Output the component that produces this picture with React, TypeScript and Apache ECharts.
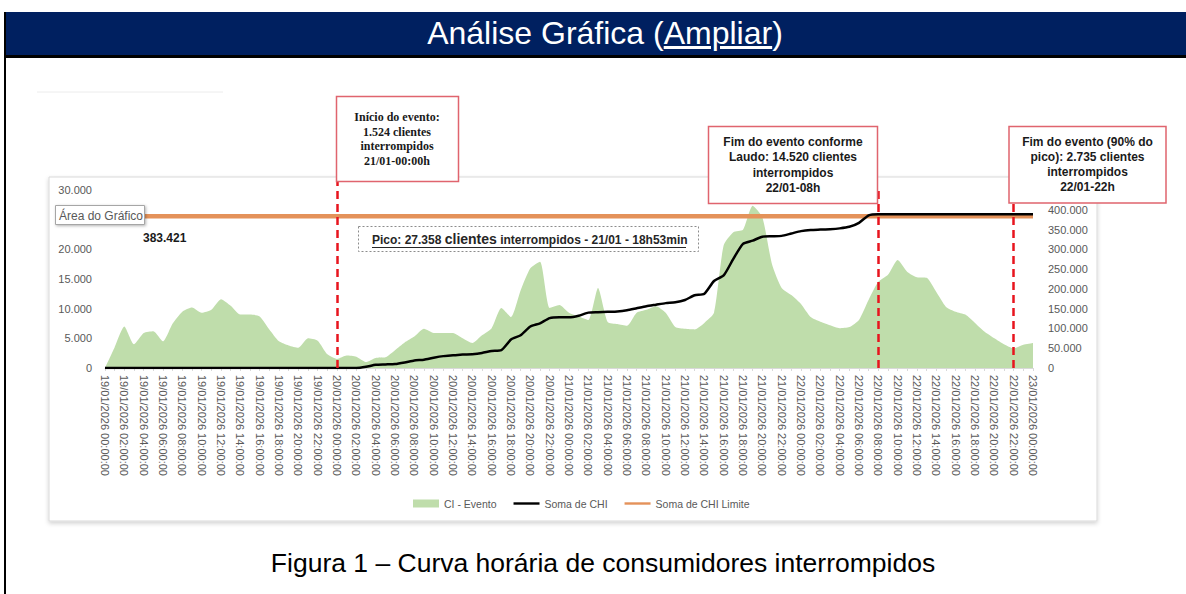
import React, { useEffect, useRef } from 'react';
import * as echarts from 'echarts';

// ---- Data ----
const DAYS = ['19/01/2026', '20/01/2026', '21/01/2026', '22/01/2026'];
const LAST_DAY = '23/01/2026';
const HOURS = ['00', '01', '02', '03', '04', '05', '06', '07', '08', '09', '10', '11',
  '12', '13', '14', '15', '16', '17', '18', '19', '20', '21', '22', '23'];
const CATEGORIES: string[] = [
  ...DAYS.flatMap((d) => HOURS.map((h) => `${d} ${h}:00:00`)),
  `${LAST_DAY} 00:00:00`,
];

// CI - Evento (clientes interrompidos por hora) - eixo esquerdo
const CI_EVENTO = [
  // 19/01
  0, 3500, 7000, 4000, 5900, 6200, 4500, 7500, 9500, 10200, 9300, 9800,
  11600, 10500, 9000, 9000, 8700, 6500, 4500, 3800, 3400, 5000, 4600, 2300,
  // 20/01
  1524, 2100, 1900, 1000, 1700, 1800, 3000, 4300, 5300, 6600, 5900, 5900,
  5900, 5000, 4200, 5500, 6700, 10100, 8600, 13100, 16800, 17900, 10100, 10600,
  // 21/01
  9300, 8700, 8100, 13500, 7750, 7400, 7100, 9300, 9800, 10400, 9300, 6900,
  6600, 6500, 7600, 9300, 20700, 22900, 23300, 27358, 25400, 17500, 13500, 12300,
  // 22/01
  10800, 8600, 7800, 7200, 6700, 6900, 8100, 11500, 14520, 15700, 18200, 16200,
  15300, 15200, 12800, 10300, 9500, 9000, 7600, 6100, 5000, 4000, 3300, 3900,
  // 23/01 00h
  4200,
];

// Soma de CHI (acumulado) - eixo direito
const SOMA_CHI = [
  // 19/01
  0, 0, 0, 0, 0, 0, 0, 0, 0, 0, 0, 0,
  0, 0, 0, 0, 0, 0, 0, 0, 0, 0, 0, 0,
  // 20/01
  0, 0, 0, 3000, 8000, 9000, 10000, 14000, 19000, 21000, 26000, 30000,
  32000, 34000, 35000, 38000, 43000, 45000, 72000, 83000, 105000, 113000, 126000, 128000,
  // 21/01
  128000, 132000, 140000, 141000, 142000, 143000, 146000, 151000, 156000, 160000, 164000, 166000,
  172000, 184000, 188000, 220000, 234000, 276000, 314000, 322000, 332000, 333000, 334000, 340000,
  // 22/01
  346000, 349000, 350000, 351000, 353000, 357000, 367000, 386000, 389000, 389000, 389000, 389000,
  389000, 389000, 389000, 389000, 389000, 389000, 389000, 389000, 389000, 389000, 389000, 389000,
  // 23/01 00h
  389000,
];

const CHI_LIMITE = 383421;
const SOMA_CHI_LIMITE = CATEGORIES.map(() => CHI_LIMITE);

const LEFT_MAX = 30000;
const LEFT_STEP = 5000;
const LEFT_HIDDEN_LABEL = 25000; // covered by the "Área do Gráfico" tooltip in the original
const RIGHT_MAX = 450000;
const RIGHT_STEP = 50000;

const EVENT_START = '20/01/2026 00:00:00';
const EVENT_ENDS = ['22/01/2026 08:00:00', '22/01/2026 22:00:00'];

const SERIES_NAMES = ['CI - Evento', 'Soma de CHI', 'Soma de CHI Limite'];
const GREEN = '#bfddab';
const ORANGE = '#e4925a';
const RED = '#e8141e';
const FONT = 'Liberation Sans, Arial, sans-serif';

const fmt = (v: number) => (v === 0 ? '0' : String(v).replace(/\B(?=(\d{3})+(?!\d))/g, '.'));

function Chart() {
  const ref = useRef<HTMLDivElement>(null);
  useEffect(() => {
    if (!ref.current) return;
    const chart = echarts.init(ref.current, undefined, { renderer: 'svg' });
    const boxStroke = '#e0646e';
    const redLine = { color: RED, width: 2.5, type: [8, 5] };
    const option: any = {
      animation: false,
      textStyle: { fontFamily: FONT },
      grid: [
        { left: 105, right: 153, top: 190, bottom: 226, containLabel: false },
        // taller helper grid: the start-of-event line rises above the plot area
        { left: 105, right: 153, top: 165, bottom: 226, containLabel: false },
      ],
      legend: {
        left: 408,
        top: 493,
        itemWidth: 26,
        itemHeight: 8,
        itemGap: 17,
        textStyle: { fontSize: 10.5, color: '#595959', fontFamily: FONT },
        data: [
          { name: SERIES_NAMES[0], icon: 'rect', itemStyle: { color: GREEN } },
          { name: SERIES_NAMES[1], icon: 'path://M0 0H27V2.5H0Z', itemStyle: { color: '#000' } },
          { name: SERIES_NAMES[2], icon: 'path://M0 0H27V2.5H0Z', itemStyle: { color: ORANGE } },
        ],
      },
      xAxis: [
        {
          type: 'category',
          gridIndex: 0,
          boundaryGap: false,
          data: CATEGORIES,
          axisLine: { lineStyle: { color: '#d9d9d9' } },
          axisTick: { show: true, interval: 0, length: 3, lineStyle: { color: '#d9d9d9' } },
          axisLabel: {
            interval: 1,
            rotate: -90,
            fontSize: 11,
            color: '#595959',
            margin: 7,
            fontFamily: FONT,
          },
          splitLine: { show: false },
        },
        {
          type: 'category',
          gridIndex: 1,
          boundaryGap: false,
          data: CATEGORIES,
          show: false,
        },
      ],
      yAxis: [
        {
          type: 'value',
          gridIndex: 0,
          min: 0,
          max: LEFT_MAX,
          interval: LEFT_STEP,
          splitLine: { show: false },
          axisLine: { show: false },
          axisTick: { show: false },
          axisLabel: {
            fontSize: 11,
            color: '#595959',
            margin: 13,
            formatter: (v: number) => (v === LEFT_HIDDEN_LABEL ? '' : fmt(v)),
            fontFamily: FONT,
          },
        },
        {
          type: 'value',
          gridIndex: 0,
          min: 0,
          max: RIGHT_MAX,
          interval: RIGHT_STEP,
          position: 'right',
          splitLine: { show: false },
          axisLine: { show: false },
          axisTick: { show: false },
          axisLabel: {
            fontSize: 11,
            color: '#595959',
            margin: 15,
            formatter: fmt,
            showMaxLabel: false,
            fontFamily: FONT,
          },
        },
        {
          type: 'value',
          gridIndex: 1,
          min: 0,
          max: 1,
          show: false,
        },
      ],
      series: [
        {
          name: SERIES_NAMES[0],
          type: 'line',
          xAxisIndex: 0,
          yAxisIndex: 0,
          data: CI_EVENTO,
          smooth: 0.2,
          showSymbol: false,
          color: GREEN,
          lineStyle: { width: 0, color: GREEN },
          areaStyle: { color: GREEN, opacity: 1 },
          z: 2,
          markLine: {
            silent: true,
            symbol: 'none',
            label: { show: false },
            lineStyle: redLine,
            data: EVENT_ENDS.map((c) => ({ xAxis: c })),
          },
        },
        {
          name: 'Início do evento',
          type: 'line',
          xAxisIndex: 1,
          yAxisIndex: 2,
          data: [],
          showSymbol: false,
          z: 5,
          markLine: {
            silent: true,
            symbol: 'none',
            label: { show: false },
            lineStyle: redLine,
            data: [{ xAxis: EVENT_START }],
          },
        },
        {
          name: SERIES_NAMES[2],
          type: 'line',
          xAxisIndex: 0,
          yAxisIndex: 1,
          data: SOMA_CHI_LIMITE,
          showSymbol: false,
          color: ORANGE,
          lineStyle: { width: 4.5, color: ORANGE },
          z: 3,
        },
        {
          name: SERIES_NAMES[1],
          type: 'line',
          xAxisIndex: 0,
          yAxisIndex: 1,
          data: SOMA_CHI,
          smooth: 0.2,
          showSymbol: false,
          color: '#000',
          lineStyle: { width: 2.5, color: '#000' },
          z: 4,
        },
      ],
      graphic: [
        {
          type: 'rect',
          z: 0,
          shape: { x: 49, y: 177, width: 1048, height: 344 },
          style: {
            fill: '#fff',
            stroke: '#d9d9d9',
            lineWidth: 1,
            shadowBlur: 4,
            shadowColor: 'rgba(0,0,0,0.18)',
            shadowOffsetY: 2,
          },
        },
        {
          type: 'line',
          z: 1,
          shape: { x1: 37, y1: 92, x2: 223, y2: 92 },
          style: { stroke: '#ececec', lineWidth: 1 },
        },
        // Box 1
        {
          type: 'rect',
          z: 50,
          shape: { x: 336.5, y: 96.5, width: 122, height: 85 },
          style: { fill: '#fff', stroke: boxStroke, lineWidth: 1.5 },
        },
        {
          type: 'text',
          z: 51,
          x: 397,
          y: 139,
          style: {
            text: 'Início do evento:\n1.524 clientes\ninterrompidos\n21/01-00:00h',
            font: 'bold 12px "Liberation Serif", "Times New Roman", serif',
            fill: '#1a1a1a',
            align: 'center',
            verticalAlign: 'middle',
            textAlign: 'center',
            textVerticalAlign: 'middle',
            lineHeight: 14.7,
          },
        },
        // Box 2
        {
          type: 'rect',
          z: 50,
          shape: { x: 708.5, y: 126.5, width: 169, height: 77 },
          style: { fill: '#fff', stroke: boxStroke, lineWidth: 1.5 },
        },
        {
          type: 'text',
          z: 51,
          x: 793,
          y: 165,
          style: {
            text: 'Fim do evento conforme\nLaudo: 14.520 clientes\ninterrompidos\n22/01-08h',
            font: `bold 12px ${FONT}`,
            fill: '#1a1a1a',
            align: 'center',
            verticalAlign: 'middle',
            textAlign: 'center',
            textVerticalAlign: 'middle',
            lineHeight: 15.3,
          },
        },
        // Box 3
        {
          type: 'rect',
          z: 50,
          shape: { x: 1009, y: 126.5, width: 157, height: 76.5 },
          style: { fill: '#fff', stroke: boxStroke, lineWidth: 1.5 },
        },
        {
          type: 'text',
          z: 51,
          x: 1087.5,
          y: 164.5,
          style: {
            text: 'Fim do evento (90% do\npico): 2.735 clientes\ninterrompidos\n22/01-22h',
            font: `bold 12px ${FONT}`,
            fill: '#1a1a1a',
            align: 'center',
            verticalAlign: 'middle',
            textAlign: 'center',
            textVerticalAlign: 'middle',
            lineHeight: 15.3,
          },
        },
        // Peak box
        {
          type: 'rect',
          z: 50,
          shape: { x: 358.5, y: 226.5, width: 340, height: 25 },
          style: { fill: '#fff', stroke: '#8c8c8c', lineWidth: 1, lineDash: [2, 2] },
        },
        {
          type: 'text',
          z: 51,
          x: 372,
          y: 246,
          style: {
            text: '{a|Pico: 27.358 }{b|clientes}{a| interrompidos - 21/01 - 18h53min}',
            fill: '#262626',
            align: 'left',
            verticalAlign: 'bottom',
            textAlign: 'left',
            textVerticalAlign: 'bottom',
            rich: {
              a: { font: `bold 12px ${FONT}`, fill: '#262626', verticalAlign: 'bottom', lineHeight: 16 },
              b: { font: `bold 14px ${FONT}`, fill: '#262626', verticalAlign: 'bottom', lineHeight: 16 },
            },
          },
        },
        {
          type: 'line',
          z: 51,
          shape: { x1: 372, y1: 247.5, x2: 686, y2: 247.5 },
          style: { stroke: '#262626', lineWidth: 1 },
        },
        // 383.421 label
        {
          type: 'text',
          z: 51,
          x: 143,
          y: 237.5,
          style: {
            text: '383.421',
            font: `bold 12px ${FONT}`,
            fill: '#1a1a1a',
            align: 'left',
            verticalAlign: 'middle',
            textAlign: 'left',
            textVerticalAlign: 'middle',
          },
        },
        // "Área do Gráfico" tooltip
        {
          type: 'rect',
          z: 50,
          shape: { x: 55.5, y: 205.5, width: 89, height: 19 },
          style: {
            fill: '#fff',
            stroke: '#a6a6a6',
            lineWidth: 1,
            shadowBlur: 3,
            shadowColor: 'rgba(0,0,0,0.3)',
            shadowOffsetX: 1,
            shadowOffsetY: 1,
          },
        },
        {
          type: 'text',
          z: 51,
          x: 59,
          y: 215.5,
          style: {
            text: 'Área do Gráfico',
            font: `12px ${FONT}`,
            fill: '#595959',
            align: 'left',
            verticalAlign: 'middle',
            textAlign: 'left',
            textVerticalAlign: 'middle',
          },
        },
      ],
    };
    chart.setOption(option);
    return () => chart.dispose();
  }, []);
  return <div ref={ref} style={{ position: 'absolute', left: 0, top: 0, width: 1186, height: 594 }} />;
}

export default function App() {
  return (
    <div
      style={{
        position: 'absolute',
        left: 0,
        top: 0,
        width: 1186,
        height: 594,
        background: '#fff',
        overflow: 'hidden',
        fontFamily: FONT,
      }}
    >
      <Chart />
      <div
        style={{
          position: 'absolute',
          left: 4,
          top: 12,
          width: 1182,
          height: 43,
          background: '#002060',
          color: '#fff',
          fontSize: 32,
          lineHeight: '43px',
          textAlign: 'center',
          paddingLeft: 20,
          boxSizing: 'border-box',
        }}
      >
        Análise Gráfica (<span style={{ textDecoration: 'underline' }}>Ampliar</span>)
      </div>
      <div style={{ position: 'absolute', left: 4, top: 55, width: 1182, height: 3, background: '#000' }} />
      <div style={{ position: 'absolute', left: 4, top: 12, width: 2, height: 582, background: '#000' }} />
      <div
        style={{
          position: 'absolute',
          left: 20,
          top: 547,
          width: 1166,
          textAlign: 'center',
          fontSize: 26.5,
          lineHeight: '32px',
          color: '#000',
        }}
      >
        Figura 1 – Curva horária de consumidores interrompidos
      </div>
    </div>
  );
}
